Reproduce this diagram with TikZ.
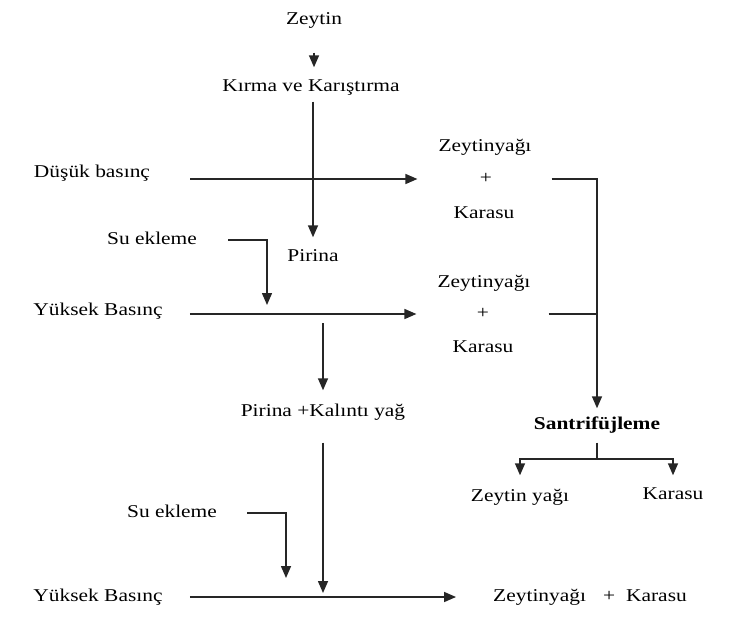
\documentclass[tikz,border=0pt]{standalone}
\usepackage{fontspec}
\setmainfont{Liberation Serif}[FakeStretch=1.19]
\usetikzlibrary{arrows.meta}
\begin{document}
\begin{tikzpicture}[x=1pt,y=-1pt,
  lbl/.style={inner sep=0pt, text height=13pt, text depth=4pt, font=\fontsize{18}{22}\selectfont, text=black},
  ln/.style={line width=1.5pt, draw=black!85},
  arr/.style={ln, -{Triangle[length=12pt,width=10pt]}}]
\path[use as bounding box] (0,0) rectangle (730,634);
% nodes
\node[lbl] (zeytin) at (314,20) {Zeytin};
\node[lbl] (kirma) at (311,87) {Kırma ve Karıştırma};
\node[lbl] (dusuk) at (92,173) {Düşük basınç};
\node[lbl] (zk1a) at (485,147) {Zeytinyağı};
\node[lbl] (zk1p) at (486,179) {+};
\node[lbl] (zk1b) at (484,214) {Karasu};
\node[lbl] (su1) at (152,240) {Su ekleme};
\node[lbl] (pirina) at (313,257) {Pirina};
\node[lbl] (yuk1) at (98,311) {Yüksek Basınç};
\node[lbl] (zk2a) at (484,283) {Zeytinyağı};
\node[lbl] (zk2p) at (483,314) {+};
\node[lbl] (zk2b) at (483,348) {Karasu};
\node[lbl] (pk) at (323,412) {Pirina +Kalıntı yağ};
\node[lbl, font=\fontsize{18}{22}\selectfont\bfseries] (santri) at (597,425) {Santrifüjleme};
\node[lbl] (zy) at (520,497) {Zeytin yağı};
\node[lbl] (kr) at (673,495) {Karasu};
\node[lbl] (su2) at (172,513) {Su ekleme};
\node[lbl] (yuk2) at (98,597) {Yüksek Basınç};
\node[lbl] (zk3) at (590,597) {Zeytinyağı\hspace{17pt}+\hspace{11pt}Karasu};
% junctions
\coordinate (j1) at (267,314);
\coordinate (j2) at (323,314);
\coordinate (b) at (597,459);
\coordinate (j3) at (323,597);
\coordinate (j4) at (286,597);
% connectors
\draw[arr, shorten <=24pt, shorten >=11pt] (zeytin.south) -- (zeytin.south |- kirma.north);
\draw[arr, shorten <=6pt, shorten >=11pt] (kirma.south -| pirina) -- (pirina.north);
\draw[arr, shorten <=40pt, shorten >=21pt] (dusuk.east |- zk1p) -- (zk1a.west |- zk1p);
\draw[arr, shorten <=20pt, shorten >=8pt] (zk1a.east |- zk1p) -| (santri.north);
\draw[arr, shorten <=31pt, shorten >=9pt] (su1.east) -| (j1);
\draw[arr, shorten <=27pt, shorten >=21pt] (yuk1.east |- zk2p) -- (zk2a.west |- zk2p);
\draw[ln, shorten <=18pt] (zk2a.east |- zk2p) -- (zk2p -| santri.north);
\draw[arr, shorten <=9pt, shorten >=13pt] (j2) -- (j2 |- pk.north);
\draw[ln, shorten <=9pt] (santri.south) -- (b);
\draw[arr, shorten >=13pt] (b) -| (zy.north);
\draw[arr, shorten >=11pt] (b) -| (kr.north);
\draw[arr, shorten <=22pt, shorten >=4pt] (pk.south) -- (j3);
\draw[arr, shorten <=30pt, shorten >=19pt] (su2.east) -| (j4);
\draw[arr, shorten <=27pt, shorten >=37pt] (yuk2.east) -- (zk3.west);
\end{tikzpicture}
\end{document}
